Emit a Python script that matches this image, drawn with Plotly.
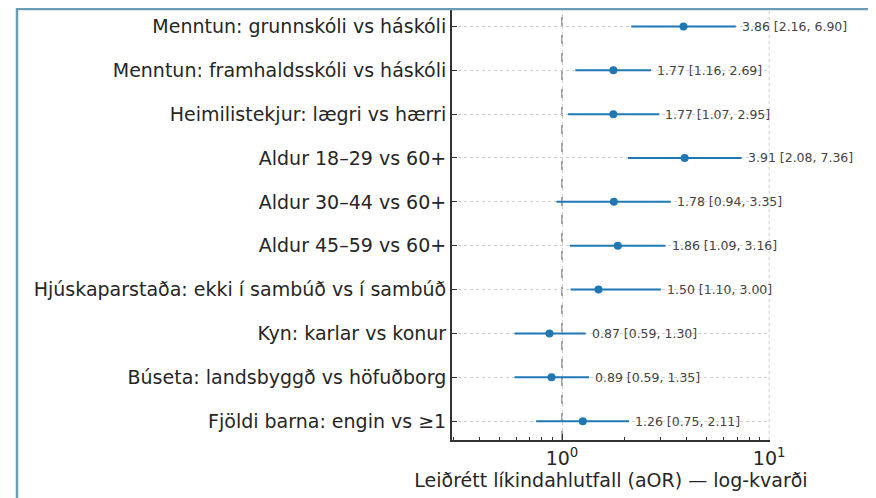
import math
import plotly.graph_objects as go

labels = [
    "Menntun: grunnskóli vs háskóli",
    "Menntun: framhaldsskóli vs háskóli",
    "Heimilistekjur: lægri vs hærri",
    "Aldur 18–29 vs 60+",
    "Aldur 30–44 vs 60+",
    "Aldur 45–59 vs 60+",
    "Hjúskaparstaða: ekki í sambúð vs í sambúð",
    "Kyn: karlar vs konur",
    "Búseta: landsbyggð vs höfuðborg",
    "Fjöldi barna: engin vs ≥1",
]
aor = [3.86, 1.77, 1.77, 3.91, 1.78, 1.86, 1.50, 0.87, 0.89, 1.26]
lower = [2.16, 1.16, 1.07, 2.08, 0.94, 1.09, 1.10, 0.59, 0.59, 0.75]
upper = [6.90, 2.69, 2.95, 7.36, 3.35, 3.16, 3.00, 1.30, 1.35, 2.11]
xtick_vals = [1, 10]
xtick_text = ["10<sup>0</sup>", "10<sup>1</sup>"]
xminor_vals = [0.3, 0.4, 0.5, 0.6, 0.7, 0.8, 0.9, 2, 3, 4, 5, 6, 7, 8, 9]

# the page body adds an 8px offset; figure coords = page coords - 8
OFF = 8
W, H = 876 - OFF, 498 - OFF
ML, MT = 452 - OFF, 8 - OFF
PW, PH = 318, 432
MR, MB = W - ML - PW, H - MT - PH
BLUE = "#1f77b4"
FRAME = "#6b9db4"
GRID = "#d0d0d0"

fig = go.Figure()
fig.add_trace(go.Scatter(
    x=aor, y=labels, mode="markers",
    marker=dict(color=BLUE, size=8),
    error_x=dict(type="data", symmetric=False,
                 array=[u - a for u, a in zip(upper, aor)],
                 arrayminus=[a - l for a, l in zip(aor, lower)],
                 color=BLUE, thickness=2, width=0),
    showlegend=False, hoverinfo="skip",
))

for lab, a, lo, up in zip(labels, aor, lower, upper):
    fig.add_annotation(x=math.log10(up), y=lab,
                       text=f"{a:.2f} [{lo:.2f}, {up:.2f}]",
                       xanchor="left", yanchor="middle", xshift=4, showarrow=False,
                       font=dict(size=12.5, color="#444", family="DejaVu Sans"))

# reference line at OR = 1
fig.add_shape(type="line", xref="x", yref="paper", x0=1, x1=1, y0=0, y1=1,
              line=dict(color="#858585", width=1.5, dash="dash"), layer="below")
# grid line at the right edge (10^1), which plotly clips
fig.add_shape(type="line", xref="x", yref="paper", x0=xtick_vals[1], x1=xtick_vals[1],
              y0=0, y1=1, line=dict(color=GRID, width=1, dash="dot"), layer="below")


def px2x(p):
    return (p - OFF - ML) / PW


def py2y(p):
    return 1 - (p - OFF - MT) / PH


# outer frame (top and left edges)
fig.add_shape(type="line", xref="paper", yref="paper",
              x0=px2x(16), x1=px2x(880), y0=py2y(9), y1=py2y(9),
              line=dict(color=FRAME, width=2.5))
fig.add_shape(type="line", xref="paper", yref="paper",
              x0=px2x(17), x1=px2x(17), y0=py2y(8), y1=py2y(502),
              line=dict(color=FRAME, width=2.5))

fig.update_layout(
    width=W, height=H,
    margin=dict(l=ML, r=MR, t=MT, b=MB, autoexpand=False),
    paper_bgcolor="white", plot_bgcolor="white",
    font=dict(family="DejaVu Sans", color="#262626", size=19),
    xaxis=dict(
        type="log", range=[-0.531, 1.004],
        tickvals=xtick_vals, ticktext=xtick_text,
        ticks="inside", ticklen=6, tickwidth=1.2, tickcolor="#333",
        minor=dict(tickvals=xminor_vals, ticks="inside", ticklen=3.5,
                   tickcolor="#333", showgrid=False),
        showline=True, linecolor="#333", linewidth=2, mirror=False,
        showgrid=True, gridcolor=GRID, griddash="dot", gridwidth=1,
        zeroline=False, automargin=False,
        tickfont=dict(size=19),
        title=dict(text="Leiðrétt líkindahlutfall (aOR) — log-kvarði",
                   font=dict(size=19), standoff=6),
    ),
    yaxis=dict(
        type="category", categoryorder="array", categoryarray=labels,
        range=[9.43, -0.42], automargin=False,
        ticks="inside", ticklen=5, tickwidth=1.2, tickcolor="#333",
        showline=True, linecolor="#333", linewidth=2,
        showgrid=True, gridcolor=GRID, griddash="dot", gridwidth=1,
        tickfont=dict(size=19),
    ),
)

fig.write_html("out.html")
